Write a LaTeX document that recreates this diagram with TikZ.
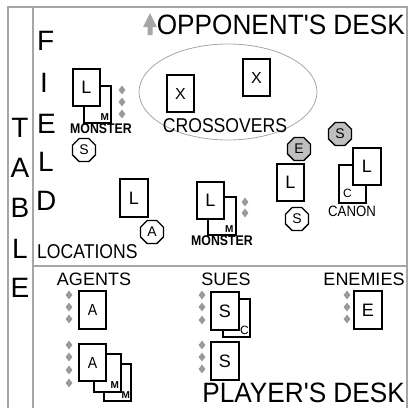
\documentclass[tikz,border=0pt]{standalone}
\usepackage{fontspec}
\setmainfont{Liberation Sans}
\newfontfamily\narrowsf{Liberation Sans}[FakeStretch=0.88]
\newfontfamily\desksf{Liberation Sans}[FakeStretch=0.935]
\usetikzlibrary{shapes.geometric}

\tikzset{
  frameline/.style={draw=gray!70, line width=2pt},
  card/.style={draw, fill=white, line width=1.6pt, minimum width=27.5pt,
    minimum height=37.5pt, inner sep=0pt, font=\fontsize{18}{18}\selectfont},
  cardtag/.style={inner sep=0pt, font=\bfseries\fontsize{10}{10}\selectfont},
  pip/.style={diamond, fill=gray!80, minimum width=7pt, minimum height=9pt, inner sep=0pt},
  token/.style={regular polygon, regular polygon sides=8, draw, line width=1.3pt,
    fill=white, minimum size=25pt, inner sep=0pt, font=\fontsize{14}{14}\selectfont},
  foetoken/.style={token, fill=gray!50},
  bigletter/.style={inner sep=0pt, font=\fontsize{28}{28}\selectfont},
  desk/.style={inner sep=0pt, font=\desksf\fontsize{28}{28}\selectfont},
  zone/.style={inner sep=0pt, font=\narrowsf\fontsize{20}{20}\selectfont},
  pile/.style={inner sep=0pt, font=\fontsize{18}{18}\selectfont},
  kind/.style={inner sep=0pt, font=\narrowsf\bfseries\fontsize{14}{14}\selectfont},
}

\begin{document}
\begin{tikzpicture}[x=1pt, y=-1pt]
  \useasboundingbox (0,0) rectangle (410,408);
  % frame
  \draw[frameline] (8,408) -- (8,7) -- (407,7) -- (407,408);
  \draw[frameline] (33,7) -- (33,408);
  \draw[frameline] (33,266) -- (407,266);

  % side words
  \node[bigletter] (tT) at (20,128) {T};
  \node[bigletter] (tA) at (20,168) {A};
  \node[bigletter] (tB) at (20,208) {B};
  \node[bigletter] (tL) at (20,249) {L};
  \node[bigletter] (tE) at (20,288) {E};
  \node[bigletter, anchor=west] (fF) at (37,41) {F};
  \node[bigletter, anchor=west] (fI) at (40,83) {I};
  \node[bigletter, anchor=west] (fE) at (37,124) {E};
  \node[bigletter, anchor=west] (fL) at (38,162) {L};
  \node[bigletter, anchor=west] (fD) at (36,201) {D};

  % opponent side
  \fill[gray!70] (143,27) -- (150,13) -- (157,27) -- (152.5,27) -- (152.5,35)
    -- (147.5,35) -- (147.5,27) -- cycle;
  \node[desk, anchor=east] (opdesk) at (405,25) {OPPONENT'S DESK};

  % crossovers
  \draw[gray!70, line width=0.8pt] (228,92) ellipse [x radius=89pt, y radius=48pt];
  \node[card, font=\fontsize{16}{16}\selectfont] (cross1) at (180.5,93.5) {X};
  \node[card, font=\fontsize{16}{16}\selectfont] (cross2) at (256.5,77.5) {X};
  \node[zone] (crosstext) at (225,126) {CROSSOVERS};

  % monster at the top
  \node[card] (mon1M) at (97.5,104.5) {};
  \node[cardtag, anchor=south east] at ([xshift=-3pt, yshift=3pt]mon1M.south east) {M};
  \node[card] (mon1L) at (86.5,87.5) {L};
  \node[pip] (mon1p1) at (122,90) {};
  \node[pip] (mon1p2) at (122,102) {};
  \node[pip] (mon1p3) at (122,114) {};
  \node[kind] (mon1text) at (101,129) {MONSTER};
  \node[token] (mon1S) at (84,150) {S};

  % locations
  \node[card] (locL) at (134,198) {L};
  \node[token] (locA) at (152,232) {A};
  \node[zone, anchor=west] (loctext) at (37,252) {LOCATIONS};

  % monster in the middle
  \node[card] (mon2M) at (222,216) {};
  \node[cardtag, anchor=south east] at ([xshift=-3pt, yshift=3pt]mon2M.south east) {M};
  \node[card] (mon2L) at (210.5,200.5) {L};
  \node[pip] (mon2p1) at (245,202) {};
  \node[pip] (mon2p2) at (245,213) {};
  \node[kind] (mon2text) at (222,241) {MONSTER};

  % location with tokens
  \node[foetoken] (midE) at (299,149) {E};
  \node[card] (midL) at (290.5,182.5) {L};
  \node[token] (midS) at (297,219) {S};

  % canon
  \node[foetoken] (canS) at (340,134) {S};
  \node[card] (canC) at (352.5,184) {};
  \node[cardtag, font=\fontsize{12}{12}\selectfont, anchor=south west]
    at ([xshift=5pt, yshift=6pt]canC.south west) {C};
  \node[card] (canL) at (367,166.5) {L};
  \node[zone, font=\narrowsf\fontsize{15}{15}\selectfont] (cantext) at (352,211) {CANON};

  % player side
  \node[pile] (agtext) at (94,279) {AGENTS};
  \node[pile] (suetext) at (226,279) {SUES};
  \node[pile] (enetext) at (364,279) {ENEMIES};

  % agents
  \node[card, font=\narrowsf\fontsize{16}{16}\selectfont] (ag1A) at (92.5,310) {A};
  \node[pip] (ag1p1) at (69,295) {};
  \node[pip] (ag1p2) at (69,307) {};
  \node[pip] (ag1p3) at (69,319) {};
  \node[card] (ag2M2) at (117.5,382.5) {};
  \node[cardtag, anchor=south east] at ([xshift=-2pt, yshift=3pt]ag2M2.south east) {M};
  \node[card] (ag2M1) at (107.5,373) {};
  \node[cardtag, anchor=south east] at ([xshift=-3pt, yshift=4pt]ag2M1.south east) {M};
  \node[card, font=\narrowsf\fontsize{16}{16}\selectfont] (ag2A) at (92.5,362.5) {A};
  \node[pip] (ag2p1) at (69,345) {};
  \node[pip] (ag2p2) at (69,357) {};
  \node[pip] (ag2p3) at (69,370) {};
  \node[pip] (ag2p4) at (69,383) {};

  % sues
  \node[card] (sue1C) at (236.5,318) {};
  \node[cardtag, font=\fontsize{12}{12}\selectfont, anchor=south east]
    at ([xshift=-2pt, yshift=3pt]sue1C.south east) {C};
  \node[card] (sue1S) at (225,311) {S};
  \node[pip] (sue1p1) at (202,295) {};
  \node[pip] (sue1p2) at (202,307) {};
  \node[pip] (sue1p3) at (202,320) {};
  \node[card] (sue2S) at (225,361) {S};
  \node[pip] (sue2p1) at (202,345) {};
  \node[pip] (sue2p2) at (202,357) {};
  \node[pip] (sue2p3) at (202,369) {};

  % enemies
  \node[card] (eneE) at (368,310) {E};
  \node[pip] (enep1) at (347,295) {};
  \node[pip] (enep2) at (347,307) {};
  \node[pip] (enep3) at (347,319) {};

  \node[desk, anchor=east] (pldesk) at (405,393) {PLAYER'S DESK};
\end{tikzpicture}
\end{document}
